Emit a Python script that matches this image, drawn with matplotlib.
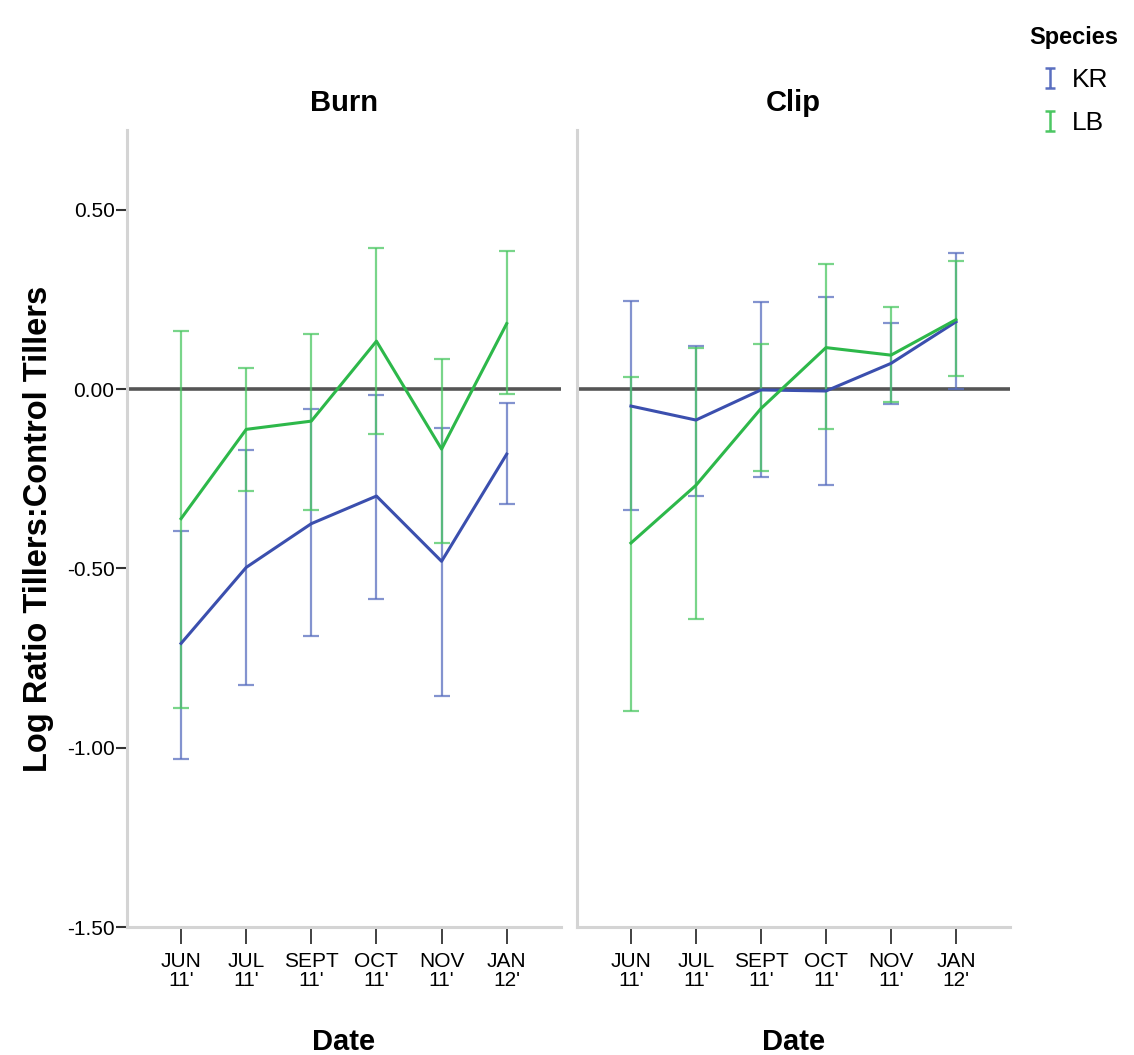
import numpy as np
import matplotlib.pyplot as plt
from matplotlib.path import Path
from matplotlib.lines import Line2D

plt.rcParams['font.family'] = ['Liberation Sans', 'DejaVu Sans']

dates = ['JUN\n11\'', 'JUL\n11\'', 'SEPT\n11\'', 'OCT\n11\'', 'NOV\n11\'', 'JAN\n12\'']
panels = ['Burn', 'Clip']
species = ['KR', 'LB']

# means, upper and lower error bar ends, per panel
burn_kr_mean = [-0.709, -0.497, -0.375, -0.298, -0.480, -0.181]
burn_kr_hi = [-0.395, -0.170, -0.054, -0.015, -0.107, -0.038]
burn_kr_lo = [-1.030, -0.825, -0.689, -0.584, -0.856, -0.319]

burn_lb_mean = [-0.361, -0.112, -0.089, 0.134, -0.167, 0.183]
burn_lb_hi = [0.162, 0.059, 0.155, 0.394, 0.084, 0.385]
burn_lb_lo = [-0.888, -0.284, -0.336, -0.124, -0.429, -0.014]

clip_kr_mean = [-0.047, -0.086, -0.002, -0.005, 0.072, 0.188]
clip_kr_hi = [0.245, 0.120, 0.243, 0.256, 0.185, 0.381]
clip_kr_lo = [-0.337, -0.298, -0.246, -0.266, -0.040, 0.000]

clip_lb_mean = [-0.429, -0.268, -0.054, 0.116, 0.095, 0.194]
clip_lb_hi = [0.034, 0.116, 0.125, 0.348, 0.228, 0.358]
clip_lb_lo = [-0.897, -0.641, -0.228, -0.112, -0.036, 0.036]

yticks = [0.50, 0.00, -0.50, -1.00, -1.50]

data = {
    'Burn': [(burn_kr_mean, burn_kr_hi, burn_kr_lo), (burn_lb_mean, burn_lb_hi, burn_lb_lo)],
    'Clip': [(clip_kr_mean, clip_kr_hi, clip_kr_lo), (clip_lb_mean, clip_lb_hi, clip_lb_lo)],
}

line_colors = ['#3b4fae', '#2db84a']
bar_colors = ['#5a6fc0', '#4cc763']

fig = plt.figure(figsize=(11.34, 10.55), dpi=100)
ax_burn = fig.add_axes([0.112, 0.1213, 0.3825, 0.7555])
ax_clip = fig.add_axes([0.5088, 0.1213, 0.3818, 0.7555])

x = np.arange(len(dates))
for ax, name in zip([ax_burn, ax_clip], panels):
    ax.axhline(0, color='#555555', lw=2.6, zorder=1)
    for i, (m, hi, lo) in enumerate(data[name]):
        m = np.array(m)
        err = [m - np.array(lo), np.array(hi) - m]
        ax.errorbar(x, m, yerr=err, fmt='none', ecolor=bar_colors[i], elinewidth=1.6,
                    capsize=5.5, capthick=1.6, alpha=0.75, zorder=2)
        ax.plot(x, m, color=line_colors[i], lw=2.2, zorder=3)
    ax.set_xlim(-0.83, 5.83)
    ax.set_ylim(-1.5, 0.723)
    ax.set_xticks(x)
    ax.set_xticklabels(dates, fontsize=15, linespacing=1.0)
    ax.tick_params(axis='x', length=12, width=1.3, color='#333333', pad=6, direction='out')
    for s in ['top', 'right']:
        ax.spines[s].set_visible(False)
    for s in ['left', 'bottom']:
        ax.spines[s].set_color('#d4d4d4')
        ax.spines[s].set_linewidth(2.2)
    ax.set_title(name, fontsize=21, fontweight='bold', pad=14)
    ax.set_xlabel('Date', fontsize=21, fontweight='bold', labelpad=27)

ax_burn.set_yticks(yticks)
ax_burn.set_yticklabels(['%.2f' % v for v in yticks], fontsize=15)
ax_burn.tick_params(axis='y', length=8, width=1.5, color='#333333', pad=1)
ax_burn.set_ylabel('Log Ratio Tillers:Control Tillers', fontsize=23.5, fontweight='bold', labelpad=9)
ax_clip.set_yticks([])

# legend with I-shaped error bar glyphs
ibar = Path([(-0.5, -1), (0.5, -1), (0, -1), (0, 1), (-0.5, 1), (0.5, 1)],
            [Path.MOVETO, Path.LINETO, Path.MOVETO, Path.LINETO, Path.MOVETO, Path.LINETO])
handles = [Line2D([], [], ls='none', marker=ibar, markersize=15, markerfacecolor='none',
                  markeredgecolor=bar_colors[i], markeredgewidth=1.8) for i in range(2)]
leg = fig.legend(handles, species, loc='upper left', bbox_to_anchor=(0.896, 0.988),
                 frameon=False, fontsize=19, title='Species', alignment='left',
                 title_fontproperties={'weight': 'bold', 'size': 17}, borderpad=0,
                 handlelength=1.6, handletextpad=0.0, labelspacing=0.72)

fig.savefig('out.png', dpi=100)
